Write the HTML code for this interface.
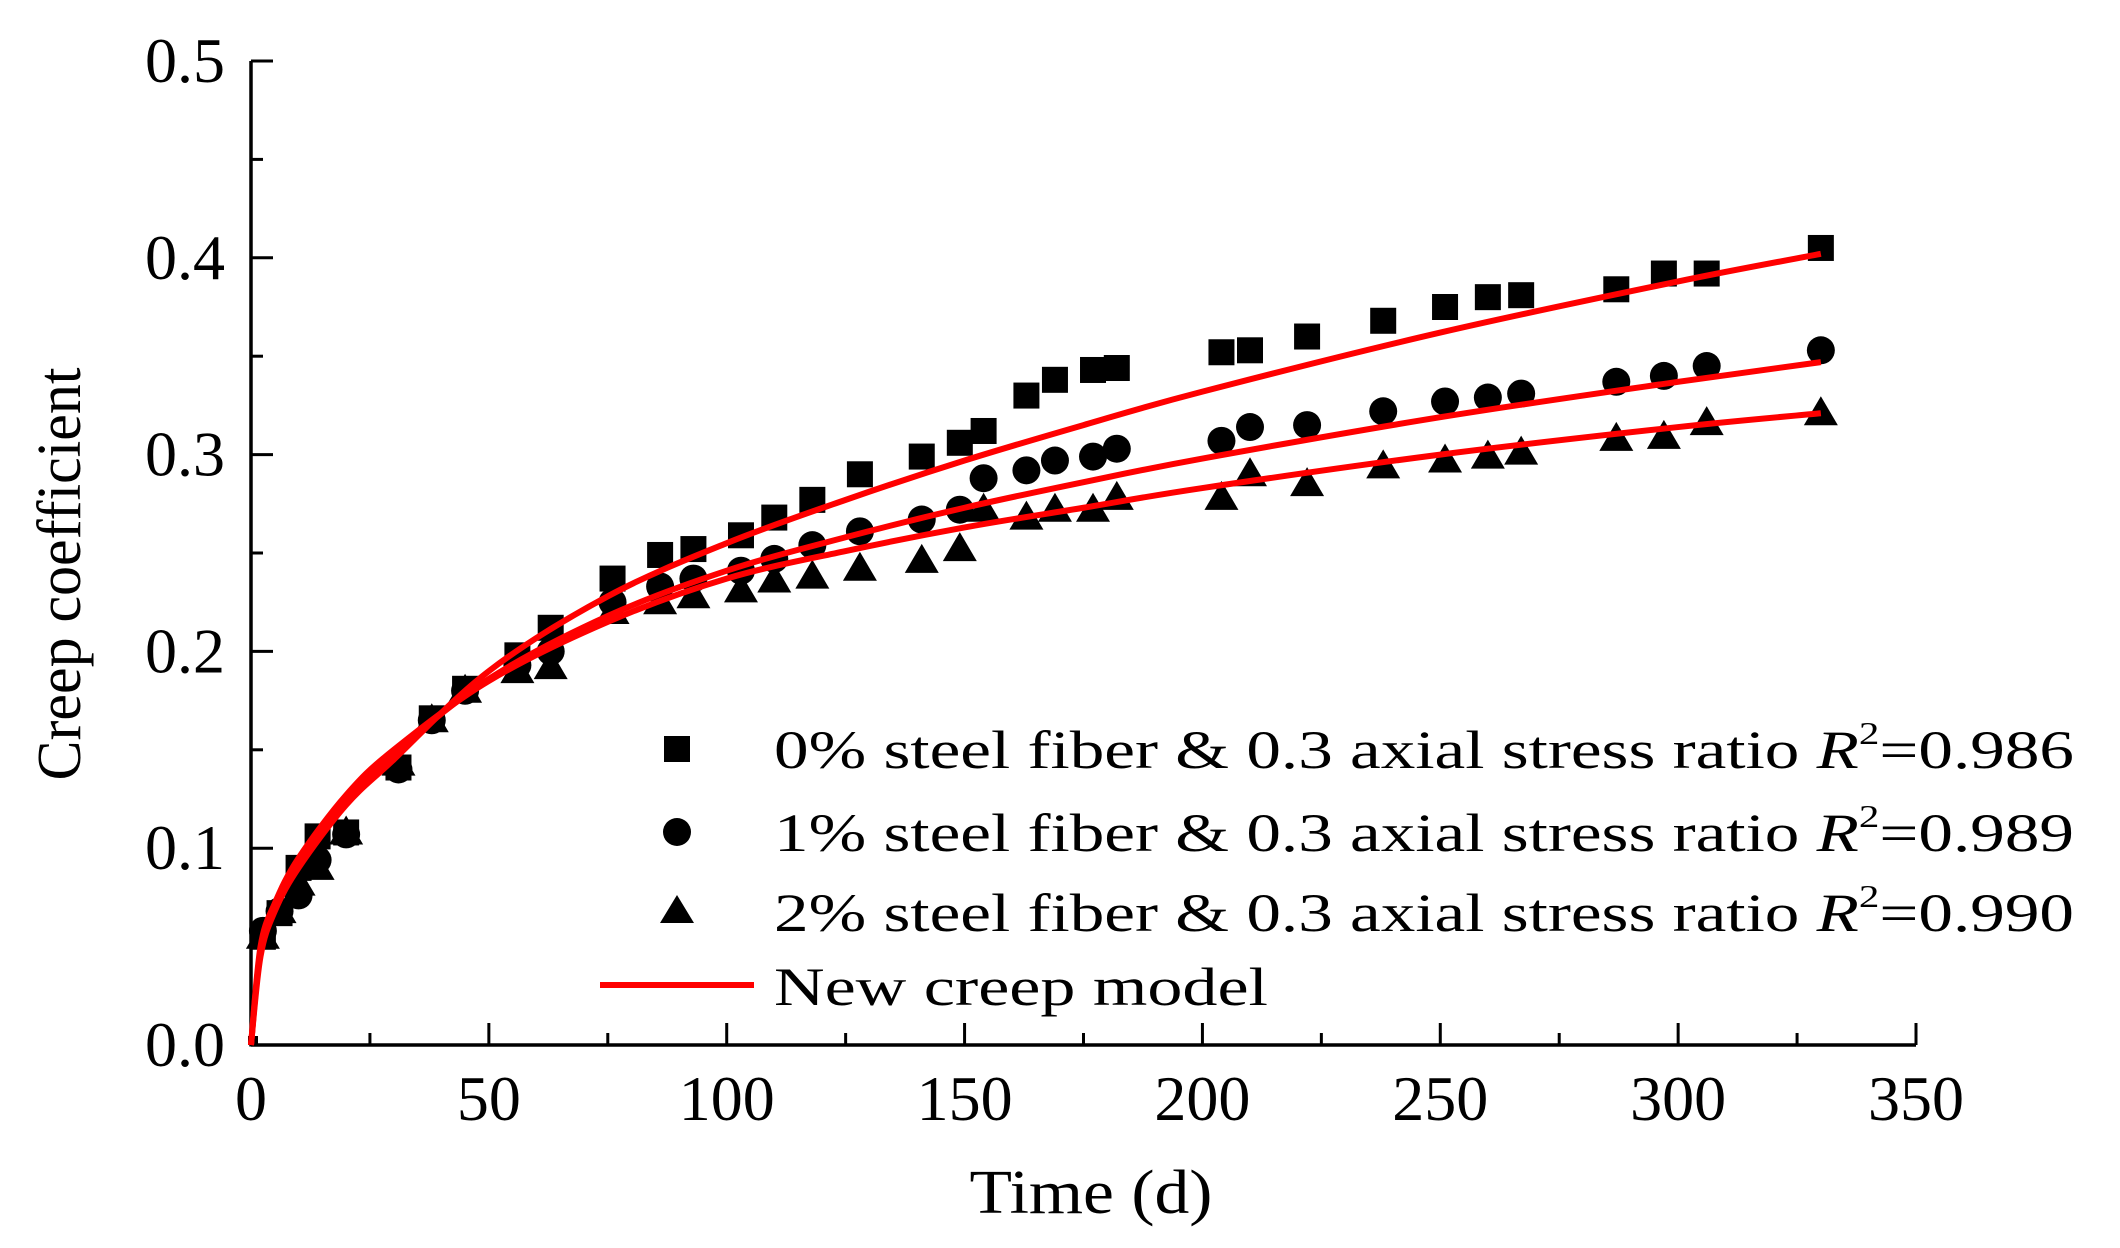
<!DOCTYPE html>
<html><head><meta charset="utf-8"><style>
html,body{margin:0;padding:0;background:#fff;}
svg{display:block;font-family:"Liberation Serif",serif;}
</style></head><body>
<svg id="chart" width="2120" height="1248" viewBox="0 0 2120 1248" xmlns="http://www.w3.org/2000/svg">
<g id="axes"></g>
<g id="curves"></g>
<g id="points"></g>
<text x="1091" y="1213" font-size="62" text-anchor="middle" textLength="243" lengthAdjust="spacingAndGlyphs">Time (d)</text>
<text transform="translate(80,574) rotate(-90)" font-size="62" text-anchor="middle" textLength="413" lengthAdjust="spacingAndGlyphs">Creep coefficient</text>
<g font-size="54">
  <rect x="664" y="736" width="26" height="26" fill="#000"/>
  <text x="774" y="768" textLength="1300" lengthAdjust="spacingAndGlyphs">0% steel fiber &amp; 0.3 axial stress ratio <tspan font-style="italic">R</tspan><tspan font-size="32" dy="-24">2</tspan><tspan dy="24">=0.986</tspan></text>
  <circle cx="677" cy="832" r="14" fill="#000"/>
  <text x="774" y="851" textLength="1300" lengthAdjust="spacingAndGlyphs">1% steel fiber &amp; 0.3 axial stress ratio <tspan font-style="italic">R</tspan><tspan font-size="32" dy="-24">2</tspan><tspan dy="24">=0.989</tspan></text>
  <polygon points="677,895 694,923 660,923" fill="#000"/>
  <text x="774" y="931" textLength="1300" lengthAdjust="spacingAndGlyphs">2% steel fiber &amp; 0.3 axial stress ratio <tspan font-style="italic">R</tspan><tspan font-size="32" dy="-24">2</tspan><tspan dy="24">=0.990</tspan></text>
  <line x1="600" y1="985" x2="754" y2="985" stroke="#f00" stroke-width="6"/>
  <text x="774" y="1005" textLength="494" lengthAdjust="spacingAndGlyphs">New creep model</text>
</g>
</svg>
<script>
const xTicks = [0,50,100,150,200,250,300,350];
const yTicks = [0.0,0.1,0.2,0.3,0.4,0.5];
const yTickLabels = ["0.0","0.1","0.2","0.3","0.4","0.5"];
const tExp = [2.5,6,10,14,20,31,38,45,56,63,76,86,93,103,110,118,128,141,149,154,163,169,177,182,204,210,222,238,251,260,267,287,297,306,330];
const s0 = [0.055,0.067,0.09,0.106,0.108,0.141,0.166,0.181,0.198,0.212,0.237,0.249,0.252,0.259,0.268,0.277,0.29,0.299,0.306,0.312,0.33,0.338,0.343,0.344,0.352,0.353,0.36,0.368,0.375,0.38,0.381,0.384,0.392,0.392,0.405];
const s1 = [0.058,0.068,0.076,0.094,0.107,0.14,0.165,0.18,0.193,0.2,0.225,0.233,0.237,0.241,0.247,0.254,0.261,0.267,0.272,0.288,0.292,0.297,0.299,0.303,0.307,0.314,0.315,0.322,0.327,0.329,0.331,0.337,0.34,0.345,0.353];
const s2 = [0.055,0.068,0.082,0.09,0.108,0.143,0.165,0.18,0.19,0.192,0.22,0.225,0.228,0.231,0.236,0.238,0.242,0.246,0.252,0.272,0.268,0.272,0.272,0.278,0.278,0.29,0.285,0.294,0.297,0.299,0.301,0.308,0.309,0.316,0.321];
const tModel = [0,2,5,10,20,30,50,75,100,125,150,175,200,250,300,330];
const m0 = [0,0.045,0.068,0.09,0.122,0.145,0.19,0.228,0.255,0.277,0.297,0.315,0.332,0.362,0.388,0.402];
const m1 = [0,0.048,0.07,0.093,0.125,0.148,0.186,0.218,0.241,0.258,0.273,0.286,0.298,0.319,0.337,0.347];
const m2 = [0,0.05,0.072,0.095,0.127,0.15,0.185,0.215,0.237,0.251,0.263,0.273,0.283,0.300,0.314,0.321];

const X0=251, X1=1916, Y0=1045, Y1=61;
function xs(t){return X0+(t/350)*(X1-X0);}
function ys(v){return Y0-(v/0.5)*(Y0-Y1);}
const NS="http://www.w3.org/2000/svg";
function mk(tag,parent,attrs){const e=document.createElementNS(NS,tag);for(const k in attrs)e.setAttribute(k,attrs[k]);parent.appendChild(e);return e;}
const axes=document.getElementById('axes');
let el=mk('line',axes,{x1:X0,y1:Y0,x2:X1,y2:Y0,stroke:'#000','stroke-width':3.5});


el=mk('line',axes,{x1:X0,y1:Y0+1.5,x2:X0,y2:Y1,stroke:'#000','stroke-width':3.5});


for(let i=0;i<xTicks.length;i++){
  const t=xTicks[i],x=xs(t);
  el=mk('line',axes,{x1:x,y1:Y0,x2:x,y2:Y0-22,stroke:'#000','stroke-width':3});
  
  
  el=mk('text',axes,{x:x,y:1120,'font-size':64,'text-anchor':'middle'});
  el.textContent=String(t);
  
  
  if(i<xTicks.length-1){
    const xm=xs(t+25);
    el=mk('line',axes,{x1:xm,y1:Y0,x2:xm,y2:Y0-12,stroke:'#000','stroke-width':3});
    
    
  }
}
for(let i=0;i<yTicks.length;i++){
  const y=ys(yTicks[i]);
  el=mk('line',axes,{x1:X0,y1:y,x2:X0+22,y2:y,stroke:'#000','stroke-width':3});
  
  
  el=mk('text',axes,{x:225,y:y+21,'font-size':64,'text-anchor':'end'});
  el.textContent=yTickLabels[i];
  
  
  if(i<yTicks.length-1){
    const ym=ys(yTicks[i]+0.05);
    el=mk('line',axes,{x1:X0,y1:ym,x2:X0+12,y2:ym,stroke:'#000','stroke-width':3});
    
    
  }
}
const pts=document.getElementById('points');
el=mk('rect',pts,{x:xs(0)-3,y:ys(0)-9,width:10,height:9,fill:'#000'});


for(let i=0;i<tExp.length;i++){
  const x=xs(tExp[i]);
  let y=ys(s2[i]);
  el=mk('polygon',pts,{points:`${x},${y-17} ${x+17},${y+12} ${x-17},${y+12}`,fill:'#000'});
  
  
  y=ys(s1[i]);
  el=mk('circle',pts,{cx:x,cy:y,r:14,fill:'#000'});
  
  
  y=ys(s0[i]);
  el=mk('rect',pts,{x:x-13,y:y-13,width:26,height:26,fill:'#000'});
  
  
}
const cv=document.getElementById('curves');
function pathFor(ts,vs){
  const P=ts.map((t,i)=>[xs(t),ys(vs[i])]);
  let d=`M${P[0][0]},${P[0][1]}`;
  for(let i=0;i<P.length-1;i++){
    const p0=P[Math.max(0,i-1)],p1=P[i],p2=P[i+1],p3=P[Math.min(P.length-1,i+2)];
    const c1=[p1[0]+(p2[0]-p0[0])/6,p1[1]+(p2[1]-p0[1])/6];
    const c2=[p2[0]-(p3[0]-p1[0])/6,p2[1]-(p3[1]-p1[1])/6];
    d+=` C${c1[0]},${c1[1]} ${c2[0]},${c2[1]} ${p2[0]},${p2[1]}`;
  }
  return d;
}
[[m0,'model-curve-0pct'],[m1,'model-curve-1pct'],[m2,'model-curve-2pct']].forEach(([m,n])=>{
  el=mk('path',cv,{d:pathFor(tModel,m),fill:'none',stroke:'#f00','stroke-width':6});
  
  
});
document.getElementById('chart').appendChild(cv);
</script>
</body></html>
